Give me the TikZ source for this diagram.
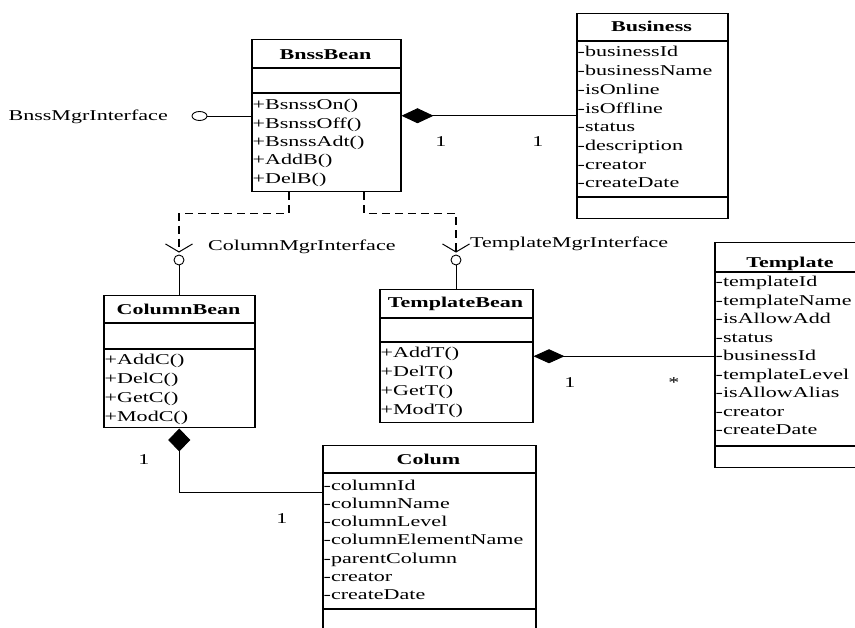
\documentclass[tikz,border=0pt]{standalone}
\usepackage{fontspec}
\setmainfont{Liberation Serif}[FakeStretch=1.47]
\usetikzlibrary{arrows.meta,shapes.geometric,calc}
\begin{document}
\begin{tikzpicture}[x=1pt,y=-1pt,font=\fontsize{15pt}{18pt}\selectfont,
  cls/.style={draw,line width=1.5pt,inner sep=0,anchor=north west},
  div/.style={line width=1.5pt},
  ttl/.style={font=\fontsize{15pt}{18pt}\selectfont\bfseries,inner sep=0,anchor=base},
  row/.style={inner sep=0,anchor=base west},
  lbl/.style={inner sep=0,anchor=base},
  conn/.style={line width=0.9pt},
  dep/.style={line width=1.6pt,dash pattern=on 8pt off 5pt,-{Straight Barb[length=8pt,width=27pt,line width=1pt]}},
  iface/.style={draw,circle,minimum size=10pt,inner sep=0,line width=0.9pt}]
\useasboundingbox[fill=white] (0,0) rectangle (855,628);

% ---------- BnssBean ----------
\node[cls,minimum width=149pt,minimum height=152pt] (bnss) at (251,39) {};
\draw[div] (251,68) -- (400,68);
\draw[div] (251,93) -- (400,93);
\node[ttl] (bnssT) at (325.5,60) {BnssBean};
\foreach \t [count=\i] in {+BsnssOn(),+BsnssOff(),+BsnssAdt(),+AddB(),+DelB()}
  \node[row] (bnss-\i) at (252.5,{110+18.3*(\i-1)}) {\t};

% ---------- Business ----------
\node[cls,minimum width=151pt,minimum height=205pt] (biz) at (576,13) {};
\draw[div] (576,41) -- (727,41);
\draw[div] (576,197) -- (727,197);
\node[ttl] (bizT) at (651.5,32) {Business};
\foreach \t [count=\i] in {-businessId,-businessName,-isOnline,-isOffline,-status,-description,-creator,-createDate}
  \node[row] (biz-\i) at (577.5,{57+18.7*(\i-1)}) {\t};

% ---------- ColumnBean ----------
\node[cls,minimum width=151pt,minimum height=132pt] (cb) at (103,295) {};
\draw[div] (103,323) -- (254,323);
\draw[div] (103,349) -- (254,349);
\node[ttl] (cbT) at (178.5,315) {ColumnBean};
\foreach \t [count=\i] in {+AddC(),+DelC(),+GetC(),+ModC()}
  \node[row] (cb-\i) at (104.5,{365+18.7*(\i-1)}) {\t};

% ---------- TemplateBean ----------
\node[cls,minimum width=153pt,minimum height=133pt] (tb) at (379,289) {};
\draw[div] (379,318) -- (532,318);
\draw[div] (379,342) -- (532,342);
\node[ttl] (tbT) at (455.5,308) {TemplateBean};
\foreach \t [count=\i] in {+AddT(),+DelT(),+GetT(),+ModT()}
  \node[row] (tb-\i) at (380.5,{358+18.7*(\i-1)}) {\t};

% ---------- Template ----------
\node[cls,minimum width=160pt,minimum height=225pt] (tpl) at (714,242) {};
\draw[div] (714,272) -- (874,272);
\draw[div] (714,446) -- (874,446);
\node[ttl] (tplT) at (790,268) {Template};
\foreach \t [count=\i] in {-templateId,-templateName,-isAllowAdd,-status,-businessId,-templateLevel,-isAllowAlias,-creator,-createDate}
  \node[row] (tpl-\i) at (715.5,{287+18.5*(\i-1)}) {\t};

% ---------- Colum ----------
\node[cls,minimum width=213pt,minimum height=200pt] (col) at (322,445) {};
\draw[div] (322,473) -- (535,473);
\draw[div] (322,609) -- (535,609);
\node[ttl] (colT) at (428.5,465) {Colum};
\foreach \t [count=\i] in {-columnId,-columnName,-columnLevel,-columnElementName,-parentColumn,-creator,-createDate}
  \node[row] (col-\i) at (323.5,{490+18.33*(\i-1)}) {\t};

% ---------- Interfaces ----------
\node[draw,ellipse,minimum width=15pt,minimum height=9pt,inner sep=0,line width=0.9pt] (bi) at (199.5,116) {};
\node[lbl,anchor=base east] (biT) at (168,121) {BnssMgrInterface};
\draw[conn] (bi.east) -- (bi.east -| bnss.west);

\node[iface] (ci) at (179,260) {};
\node[lbl,anchor=base west] (ciT) at (208,251) {ColumnMgrInterface};
\draw[conn] (ci.south) -- (ci.south |- cb.north);

\node[iface] (ti) at (456,260) {};
\node[lbl,anchor=base west] (tiT) at (470,248) {TemplateMgrInterface};
\draw[conn] (ti.south) -- (ti.south |- tb.north);

\draw[dep] ($(bnss.south)+(-37.5,0)$) -- ++(0,21) -| ([yshift=2pt]ci.north);
\draw[dep] ($(bnss.south)+(37.5,0)$) -- ++(0,21) -| ([yshift=2pt]ti.north);

% ---------- Compositions ----------
\draw[conn,{Diamond[length=32pt,width=15pt]}-] (bnss.east) -- (bnss.east -| biz.west);
\node[lbl] (m1) at (441,147) {1};
\node[lbl] (m2) at (538,147) {1};

\draw[conn,{Diamond[length=31pt,width=14pt]}-] (tb.east) -- (tb.east -| tpl.west);
\node[lbl] (m3) at (570,388) {1};
\node[lbl] (m4) at (674,388) {*};

\draw[conn,{Diamond[length=23pt,width=22pt]}-] (cb.south) |- ($(col.north west)+(0,47)$);
\node[lbl] (m5) at (144,465) {1};
\node[lbl] (m6) at (282,523) {1};
\end{tikzpicture}
\end{document}
